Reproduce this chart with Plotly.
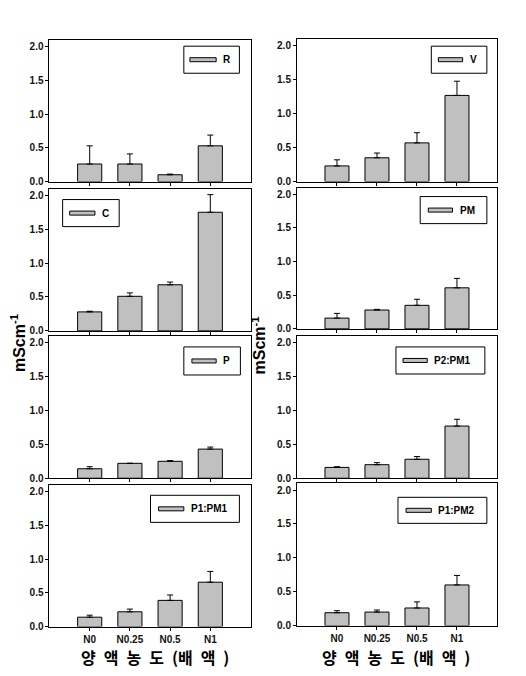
import plotly.graph_objects as go

# page body has an 8px margin and the photo is slightly downscaled; map target pixels accordingly
OFF = 8
S = 0.99
W, H = 512, 664

categories = ["N0", "N0.25", "N0.5", "N1"]

names = ["R", "V", "C", "PM", "P", "P2:PM1", "P1:PM1", "P1:PM2"]

R_mean = [0.26, 0.26, 0.10, 0.53]
R_err = [0.27, 0.15, 0.01, 0.16]
V_mean = [0.23, 0.35, 0.57, 1.27]
V_err = [0.09, 0.07, 0.15, 0.21]
C_mean = [0.28, 0.51, 0.68, 1.75]
C_err = [0.01, 0.05, 0.04, 0.26]
PM_mean = [0.16, 0.28, 0.35, 0.61]
PM_err = [0.07, 0.01, 0.09, 0.14]
P_mean = [0.14, 0.22, 0.25, 0.43]
P_err = [0.03, 0.0, 0.01, 0.03]
P2PM1_mean = [0.16, 0.20, 0.28, 0.77]
P2PM1_err = [0.01, 0.03, 0.04, 0.10]
P1PM1_mean = [0.14, 0.22, 0.39, 0.66]
P1PM1_err = [0.03, 0.04, 0.08, 0.16]
P1PM2_mean = [0.19, 0.20, 0.26, 0.60]
P1PM2_err = [0.03, 0.03, 0.09, 0.14]

y_ticks = [0.0, 0.5, 1.0, 1.5, 2.0]

means = [R_mean, V_mean, C_mean, PM_mean, P_mean, P2PM1_mean, P1PM1_mean, P1PM2_mean]
errs = [R_err, V_err, C_err, PM_err, P_err, P2PM1_err, P1PM1_err, P1PM2_err]

# panel pixel geometry (target picture coordinates)
left_x = (49, 248)
right_x = (294, 492)
left_rows = [(40, 181), (188, 330), (335, 477), (484, 625)]
right_rows = [(39, 181), (187, 328), (335, 477), (482, 624)]

# legend box pixel geometry: box x0, x1, y0, y1, swatch x0, x1
legend_geo = [
    (182, 237, 46, 73, 188, 214),
    (427, 482, 46, 73, 434, 458),
    (62, 118, 199, 226, 69, 94),
    (416, 482, 196, 223, 424, 448),
    (182, 238, 346, 374, 190, 214),
    (392, 480, 346, 373, 399, 423),
    (149, 237, 494, 521, 157, 182),
    (394, 482, 496, 522, 402, 427),
]

def px(x):
    return (x / S - OFF) / W

def py(y):
    return 1 - (y / S - OFF) / H

fig = go.Figure()
BAR_COLOR = "#c0c0c0"
tickfont = dict(family="Liberation Sans, Arial", size=10, color="#111", weight="bold")

shapes = []
annotations = []

for i in range(8):
    col = i % 2
    row = i // 2
    xs = left_x if col == 0 else right_x
    top, bot = (left_rows if col == 0 else right_rows)[row]
    idx = i + 1
    xa = "x" if idx == 1 else f"x{idx}"
    ya = "y" if idx == 1 else f"y{idx}"
    fig.add_trace(go.Bar(
        x=categories, y=means[i], name=names[i],
        xaxis=xa, yaxis=ya, width=0.6,
        marker=dict(color=BAR_COLOR, line=dict(color="black", width=1)),
        error_y=dict(type="data", symmetric=False, array=errs[i],
                     arrayminus=[0] * 4, color="black", thickness=1, width=3),
        showlegend=False,
    ))
    bottom_row = row == 3
    fig.update_layout(**{
        ("xaxis" if idx == 1 else f"xaxis{idx}"): dict(
            domain=[px(xs[0]), px(xs[1])], anchor=ya, type="category",
            categoryorder="array", categoryarray=categories,
            range=[-1, 4], showline=True, mirror=True, linecolor="black",
            linewidth=1, ticks="outside", ticklen=3, tickcolor="black",
            showticklabels=bottom_row, tickfont=tickfont, showgrid=False,
            zeroline=False, fixedrange=True,
        ),
        ("yaxis" if idx == 1 else f"yaxis{idx}"): dict(
            domain=[py(bot), py(top)], anchor=xa, range=[0, 2.1],
            tickvals=y_ticks, tickformat=".1f", showline=True, mirror=True,
            linecolor="black", linewidth=1, ticks="outside", ticklen=3,
            tickcolor="black", tickfont=tickfont, showgrid=False,
            zeroline=False, fixedrange=True,
        ),
    })
    bx0, bx1, by0, by1, sx0, sx1 = legend_geo[i]
    shapes.append(dict(type="rect", xref="paper", yref="paper",
                       x0=px(bx0), x1=px(bx1), y0=py(by1), y1=py(by0),
                       line=dict(color="black", width=1), fillcolor="white", layer="above"))
    cy = (by0 + by1) / 2
    shapes.append(dict(type="rect", xref="paper", yref="paper",
                       x0=px(sx0), x1=px(sx1), y0=py(cy + 2), y1=py(cy - 2),
                       line=dict(color="black", width=1), fillcolor=BAR_COLOR, layer="above"))
    annotations.append(dict(xref="paper", yref="paper", x=px(sx1 + 5), y=py(cy),
                            xanchor="left", yanchor="middle", showarrow=False,
                            text=names[i],
                            font=dict(family="Liberation Sans, Arial", size=10,
                                      color="black", weight="bold")))

# y-axis titles
for xpix, ypix in [(18, 342), (256, 345)]:
    annotations.append(dict(xref="paper", yref="paper", x=px(xpix), y=py(ypix),
                            xanchor="center", yanchor="middle", showarrow=False,
                            textangle=-90, text="mScm<sup>-1</sup>",
                            font=dict(family="Liberation Sans, Arial", size=16,
                                      color="black", weight="bold")))
# x-axis titles
xtitle = "양\u2002액\u2002농\u2002도\u2002(배\u2002액\u2002)"
for xpix in [153, 392]:
    annotations.append(dict(xref="paper", yref="paper", x=px(xpix), y=py(655),
                            xanchor="center", yanchor="middle", showarrow=False,
                            text=xtitle,
                            font=dict(family="Noto Sans CJK KR", size=16,
                                      color="black", weight="bold")))

fig.update_layout(
    width=W, height=H, margin=dict(l=0, r=0, t=0, b=0),
    paper_bgcolor="white", plot_bgcolor="white",
    shapes=shapes, annotations=annotations, showlegend=False,
    bargap=0.4,
)

fig.write_html("out.html", include_plotlyjs=True, config={"displayModeBar": False})
